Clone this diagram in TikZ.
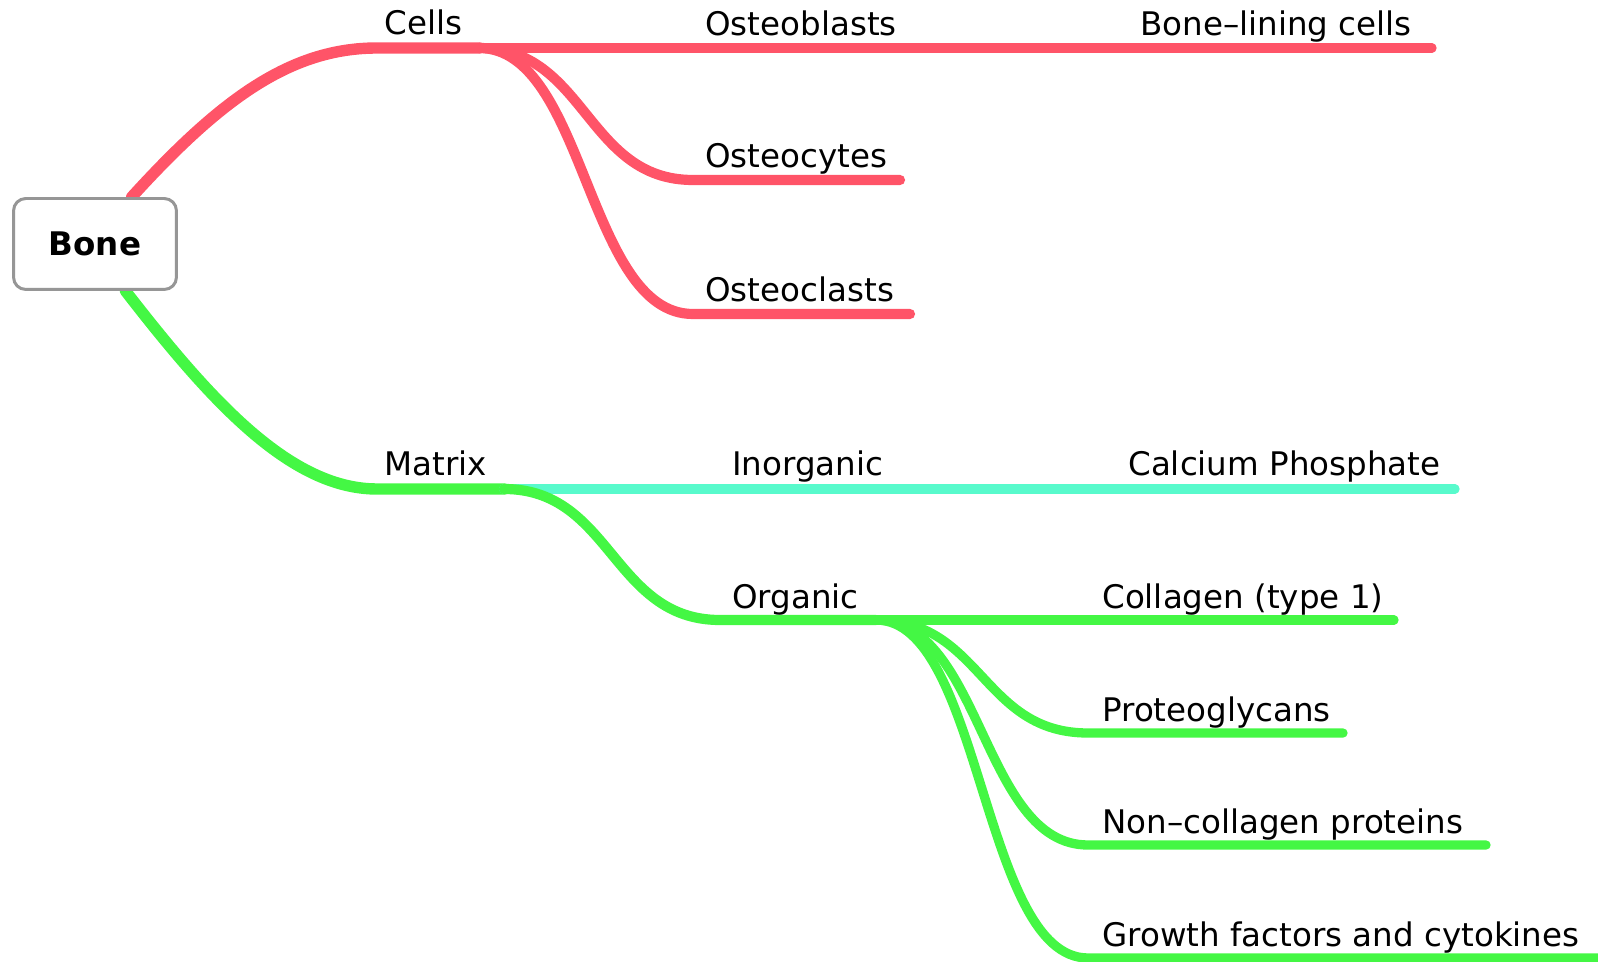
\documentclass[tikz,border=0pt]{standalone}
\usepackage{fontspec}
\setmainfont{DejaVu Sans}
\usetikzlibrary{backgrounds}
\definecolor{cellred}{RGB}{255,84,104}
\definecolor{matrixgreen}{RGB}{68,247,68}
\definecolor{inorgcyan}{RGB}{88,250,204}
\definecolor{boxgray}{RGB}{150,150,150}

\begin{document}
\begin{tikzpicture}[x=0.02cm, y=-0.02cm,
	topic/.style={anchor=base west, inner sep=0pt, font=\fontsize{18.5}{22}\selectfont},
	root/.style={draw=boxgray, line width=1.7pt, rounded corners=7pt, fill=white,
		minimum width=3.26cm, minimum height=1.82cm, font=\fontsize{18.5}{22}\selectfont\bfseries},
	main/.style={line width=6.5pt, line cap=round},
	sub/.style={line width=5.8pt, line cap=round},
	leaf/.style={line width=5.3pt, line cap=round},
	branch/.style={out=0, in=180}]
	\useasboundingbox (0,0) rectangle (1598,962);

	\node[root] (bone) at (95,244) {Bone};

	% Cells side
	\node[topic] (cells) at (384,35) {Cells};
	\coordinate (cells-s) at (377,48);
	\coordinate (cells-e) at (479,48);

	\node[topic] (blasts) at (705,36) {Osteoblasts};
	\coordinate (blasts-s) at (693,48);
	\coordinate (blasts-e) at (912,48);

	\node[topic] (cytes) at (705,168) {Osteocytes};
	\coordinate (cytes-s) at (693,180);
	\coordinate (cytes-e) at (900,180);

	\node[topic] (clasts) at (705,302) {Osteoclasts};
	\coordinate (clasts-s) at (693,314);
	\coordinate (clasts-e) at (910,314);

	\node[topic] (lining) at (1140,36) {Bone\textendash lining cells};
	\coordinate (lining-s) at (1129,48);
	\coordinate (lining-e) at (1432,48);

	% Matrix side
	\node[topic] (matrix) at (384,476) {Matrix};
	\coordinate (matrix-s) at (377,489);
	\coordinate (matrix-e) at (504,489);

	\node[topic] (inorg) at (732,476) {Inorganic};
	\coordinate (inorg-s) at (720,489);
	\coordinate (inorg-e) at (899,489);

	\node[topic] (caph) at (1128,476) {Calcium Phosphate};
	\coordinate (caph-s) at (1116,489);
	\coordinate (caph-e) at (1455,489);

	\node[topic] (org) at (732,608) {Organic};
	\coordinate (org-s) at (720,620);
	\coordinate (org-e) at (876,620);

	\node[topic] (coll) at (1102,608) {Collagen (type 1)};
	\coordinate (coll-s) at (1088,620);
	\coordinate (coll-e) at (1394,620);

	\node[topic] (proteo) at (1102,721) {Proteoglycans};
	\coordinate (proteo-s) at (1088,733);
	\coordinate (proteo-e) at (1343,733);

	\node[topic] (noncoll) at (1102,833) {Non\textendash collagen proteins};
	\coordinate (noncoll-s) at (1088,845);
	\coordinate (noncoll-e) at (1486,845);

	\node[topic] (growth) at (1102,946) {Growth factors and cytokines};
	\coordinate (growth-s) at (1088,958);
	\coordinate (growth-e) at (1610,958);

	\begin{pgfonlayer}{background}
		% red branch
		\draw[main, cellred] (bone.52) .. controls (220,100) and (290,48) .. (cells-s) -- (cells-e);
		\draw[sub, cellred] (cells-e) -- (blasts-s) -- (blasts-e);
		\draw[sub, cellred] (cells-e) to[branch, looseness=1.09] (cytes-s) -- (cytes-e);
		\draw[sub, cellred] (cells-e) to[branch, looseness=0.8] (clasts-s) -- (clasts-e);
		\draw[leaf, cellred] (blasts-e) -- (lining-s) -- (lining-e);

		% green branch
		\draw[main, matrixgreen] (bone.-57) .. controls (210,400) and (290,489) .. (matrix-s) -- (matrix-e);
		\draw[sub, inorgcyan] (matrix-e) -- (inorg-s) -- (inorg-e);
		\draw[leaf, inorgcyan] (inorg-e) -- (caph-s) -- (caph-e);
		\draw[sub, matrixgreen] (matrix-e) to[branch, looseness=1.09] (org-s) -- (org-e);
		\draw[leaf, matrixgreen] (org-e) -- (coll-s) -- (coll-e);
		\draw[leaf, matrixgreen] (org-e) to[branch, looseness=1.13] (proteo-s) -- (proteo-e);
		\draw[leaf, matrixgreen] (org-e) to[branch, looseness=0.88] (noncoll-s) -- (noncoll-e);
		\draw[leaf, matrixgreen] (org-e) to[branch, looseness=0.68] (growth-s) -- (growth-e);
	\end{pgfonlayer}
\end{tikzpicture}
\end{document}
